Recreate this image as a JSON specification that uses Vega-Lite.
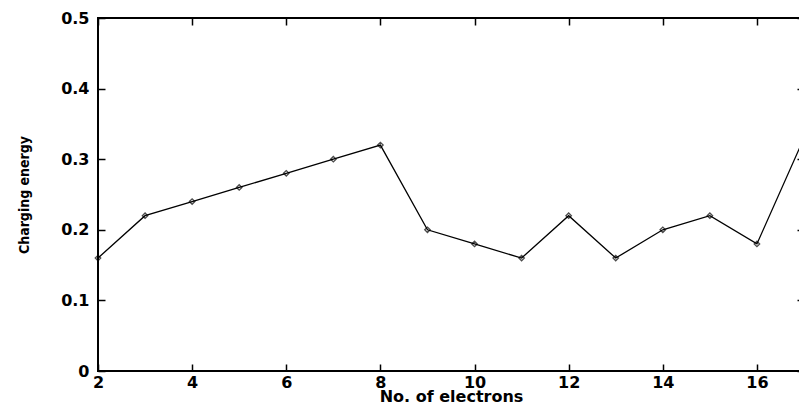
{
  "$schema": "https://vega.github.io/schema/vega-lite/v6.json",
  "autosize": {"type": "none"},
  "padding": {"left": 98, "top": 18, "right": 0, "bottom": 35},
  "width": 706,
  "height": 353,
  "background": "white",
  "config": {
    "view": {"stroke": "black", "strokeWidth": 2},
    "axis": {"grid": false, "domain": false, "tickColor": "black", "tickSize": -7, "tickWidth": 1.5,
             "labelFont": "DejaVu Sans", "labelFontWeight": "bold", "labelFontSize": 16, "labelColor": "black",
             "titleFont": "DejaVu Sans", "titleFontWeight": "bold", "titleColor": "black"}
  },
  "data": {"values": [
    {"n": 2, "e": 0.16}, {"n": 3, "e": 0.22}, {"n": 4, "e": 0.24}, {"n": 5, "e": 0.26},
    {"n": 6, "e": 0.28}, {"n": 7, "e": 0.30}, {"n": 8, "e": 0.32}, {"n": 9, "e": 0.20},
    {"n": 10, "e": 0.18}, {"n": 11, "e": 0.16}, {"n": 12, "e": 0.22}, {"n": 13, "e": 0.16},
    {"n": 14, "e": 0.20}, {"n": 15, "e": 0.22}, {"n": 16, "e": 0.18}, {"n": 17, "e": 0.33}
  ]},
  "layer": [
    {"mark": {"type": "line", "color": "black", "strokeWidth": 1.3},
     "encoding": {
       "x": {"field": "n", "type": "quantitative", "scale": {"domain": [2, 17], "nice": false, "zero": false},
             "axis": {"values": [2, 4, 6, 8, 10, 12, 14, 16], "title": "No. of electrons", "titleFontSize": 16, "titlePadding": -2, "labelPadding": 10, "labelFlush": false}},
       "y": {"field": "e", "type": "quantitative", "scale": {"domain": [0, 0.5], "nice": false},
             "axis": {"values": [0, 0.1, 0.2, 0.3, 0.4, 0.5], "title": "Charging energy", "titleFont": "DejaVu Sans Condensed", "titleFontSize": 14, "titlePadding": 29, "labelPadding": 16,
                      "labelExpr": "datum.value == 0 ? '0' : format(datum.value, '.1f')"}}
     }},
    {"mark": {"type": "point", "shape": "diamond", "filled": false, "color": "black", "size": 30, "strokeWidth": 1.3},
     "encoding": {
       "x": {"field": "n", "type": "quantitative", "scale": {"domain": [2, 17], "nice": false, "zero": false},
             "axis": {"orient": "top", "values": [2, 4, 6, 8, 10, 12, 14, 16], "labels": false, "title": null}},
       "y": {"field": "e", "type": "quantitative", "scale": {"domain": [0, 0.5], "nice": false},
             "axis": {"orient": "right", "values": [0, 0.1, 0.2, 0.3, 0.4, 0.5], "labels": false, "title": null}}
     }}
  ],
  "resolve": {"axis": {"x": "independent", "y": "independent"}}
}
